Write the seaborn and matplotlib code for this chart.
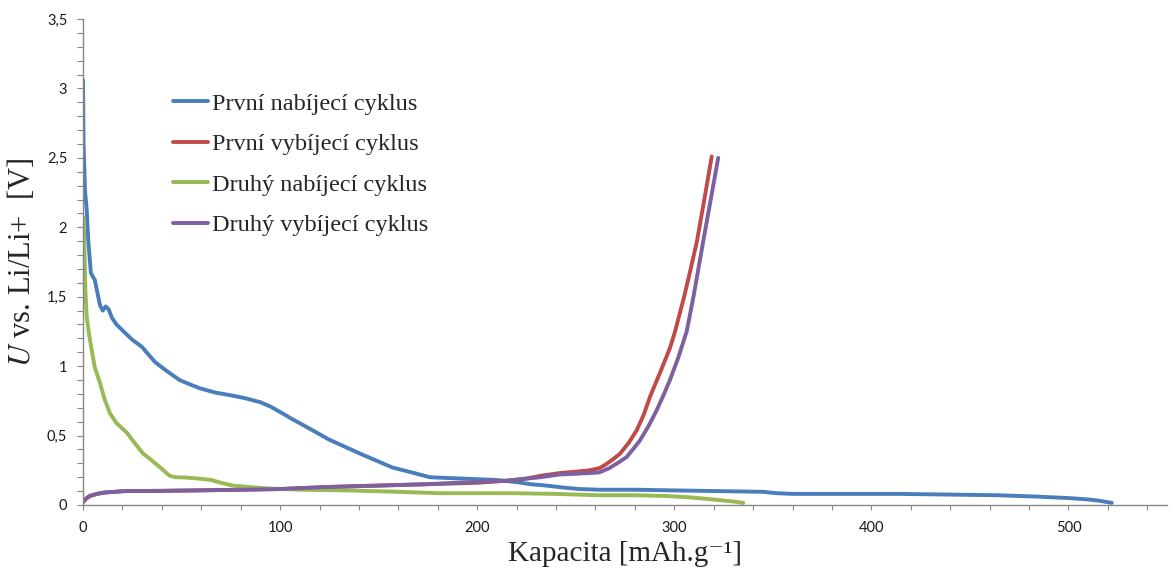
import numpy as np
import pandas as pd
import matplotlib
matplotlib.use("Agg")
import matplotlib.pyplot as plt
from matplotlib.ticker import MultipleLocator, FuncFormatter
import seaborn as sns

# Galvanostatic cycling curves: capacity [mAh/g] vs. potential [V vs. Li/Li+]
charge1_x = [0, 0.3, 1, 1.9, 2.7, 4, 6, 8.6, 10, 11.5, 13, 14.6, 17, 21.3, 25, 29.8,
             36.5, 42, 49, 54, 59.4, 67, 75, 82, 90, 95, 100, 106, 113.7, 125, 140.6,
             157, 168, 176, 184, 193, 210, 220, 227, 235, 244, 252, 262, 281, 300, 323,
             345, 352, 360, 380, 414, 440, 465, 485, 500, 510, 516, 522]
charge1_y = [3.06, 2.6, 2.27, 2.12, 1.90, 1.67, 1.62, 1.44, 1.40, 1.43, 1.41, 1.35, 1.30,
             1.24, 1.19, 1.14, 1.03, 0.97, 0.90, 0.87, 0.84, 0.81, 0.79, 0.77, 0.74, 0.71,
             0.67, 0.62, 0.56, 0.47, 0.37, 0.27, 0.23, 0.20, 0.195, 0.19, 0.18, 0.165, 0.15,
             0.14, 0.125, 0.115, 0.11, 0.11, 0.105, 0.10, 0.095, 0.085, 0.08, 0.08, 0.08,
             0.075, 0.07, 0.06, 0.05, 0.04, 0.03, 0.015]

discharge1_x = [0, 1.5, 3.5, 7, 11, 21, 40, 57, 80, 100, 125, 150, 175, 200, 215, 225,
                232, 242, 250, 257, 262, 265, 269, 272.5, 277, 281, 284.5, 287.7, 292.7,
                297.8, 300.4, 305, 308, 311.5, 315, 319]
discharge1_y = [0.02, 0.045, 0.065, 0.08, 0.09, 0.10, 0.102, 0.105, 0.11, 0.115, 0.13,
                0.14, 0.15, 0.16, 0.175, 0.19, 0.21, 0.23, 0.24, 0.25, 0.265, 0.29, 0.33,
                0.37, 0.45, 0.54, 0.65, 0.78, 0.95, 1.13, 1.25, 1.50, 1.68, 1.90, 2.18, 2.51]

charge2_x = [0.3, 0.8, 1.2, 1.9, 3.5, 6, 8.6, 11, 13.7, 17, 22.3, 26, 30.5, 35, 40, 44,
             47, 52, 59, 65, 70, 76, 84, 93, 110, 134, 160, 181, 200, 218, 240, 262, 281,
             295, 308, 316, 323, 330, 335]
charge2_y = [2.07, 1.8, 1.55, 1.35, 1.19, 0.99, 0.88, 0.76, 0.66, 0.59, 0.52, 0.45, 0.37,
             0.32, 0.26, 0.21, 0.20, 0.198, 0.19, 0.18, 0.16, 0.14, 0.13, 0.12, 0.11,
             0.105, 0.095, 0.085, 0.085, 0.085, 0.08, 0.07, 0.07, 0.065, 0.055, 0.045,
             0.035, 0.025, 0.015]

discharge2_x = [0, 1.5, 3.5, 7, 11, 21, 40, 57, 80, 100, 125, 150, 175, 198, 215, 225,
                232, 242, 250, 257, 262, 267, 271, 275.8, 279, 282.6, 287, 291, 294.5,
                297.8, 302, 306.3, 310, 314.7, 318.5, 322.3]
discharge2_y = [0.02, 0.045, 0.065, 0.08, 0.09, 0.10, 0.102, 0.105, 0.11, 0.115, 0.13,
                0.14, 0.15, 0.165, 0.175, 0.19, 0.20, 0.22, 0.225, 0.23, 0.235, 0.265,
                0.30, 0.345, 0.40, 0.465, 0.57, 0.68, 0.79, 0.90, 1.06, 1.25, 1.52, 1.90,
                2.20, 2.50]

series_names = ["První nabíjecí cyklus", "První vybíjecí cyklus",
                "Druhý nabíjecí cyklus", "Druhý vybíjecí cyklus"]
series_colors = ["#4A7EBB", "#BE4B48", "#98B954", "#7D60A0"]

frames = []
for name, xs, ys in zip(series_names,
                        [charge1_x, discharge1_x, charge2_x, discharge2_x],
                        [charge1_y, discharge1_y, charge2_y, discharge2_y]):
    frames.append(pd.DataFrame({"Kapacita": xs, "U": ys, "Cyklus": name}))
df = pd.concat(frames, ignore_index=True)

sns.set_theme(style="white")
plt.rcParams["font.family"] = ["Lato", "DejaVu Sans"]
plt.rcParams["mathtext.fontset"] = "stix"

fig = plt.figure(figsize=(11.73, 5.76), dpi=100)
ax = fig.add_axes([83 / 1173, 71 / 576, 1084 / 1173, 486 / 576])

sns.lineplot(data=df, x="Kapacita", y="U", hue="Cyklus", hue_order=series_names,
             palette=dict(zip(series_names, series_colors)), sort=False,
             estimator=None, linewidth=2.8, ax=ax)

ax.set_xlim(0, 550)
ax.set_ylim(0, 3.5)
ax.xaxis.set_major_locator(MultipleLocator(100))
ax.xaxis.set_minor_locator(MultipleLocator(20))
ax.yaxis.set_major_locator(MultipleLocator(0.5))
ax.yaxis.set_minor_locator(MultipleLocator(0.1))
ax.yaxis.set_major_formatter(FuncFormatter(lambda v, p: f"{v:g}".replace(".", ",")))

axis_gray = "#868686"
for side in ["top", "right"]:
    ax.spines[side].set_visible(False)
for side in ["left", "bottom"]:
    ax.spines[side].set_color(axis_gray)
    ax.spines[side].set_linewidth(1.0)
ax.tick_params(axis="both", which="both", direction="out", color=axis_gray,
               width=0.8, length=4.3, labelsize=10.5, labelcolor="#1a1a1a")
ax.tick_params(axis="x", which="both", bottom=True, length=3.5, pad=8)
ax.tick_params(axis="y", which="both", left=True, pad=7)

serif = ["Liberation Serif", "DejaVu Serif"]
ax.set_xlabel("Kapacita [mAh.g\u207b\u00b9]", family=serif, fontsize=21)
ax.set_ylabel(r"$U$ vs. Li/Li+  [V]", family=serif, fontsize=22)
ax.xaxis.set_label_coords(0.5, -0.075)
ax.yaxis.set_label_coords(-0.042, 0.5)

leg = ax.legend(loc="upper left", bbox_to_anchor=(0.083, 0.848), frameon=False,
                prop={"family": serif, "size": 17.5},
                handlelength=1.45, handletextpad=0.17, labelspacing=0.76,
                borderpad=0, borderaxespad=0)
for line in leg.get_lines():
    line.set_linewidth(2.8)

fig.savefig("out.png", dpi=100)
